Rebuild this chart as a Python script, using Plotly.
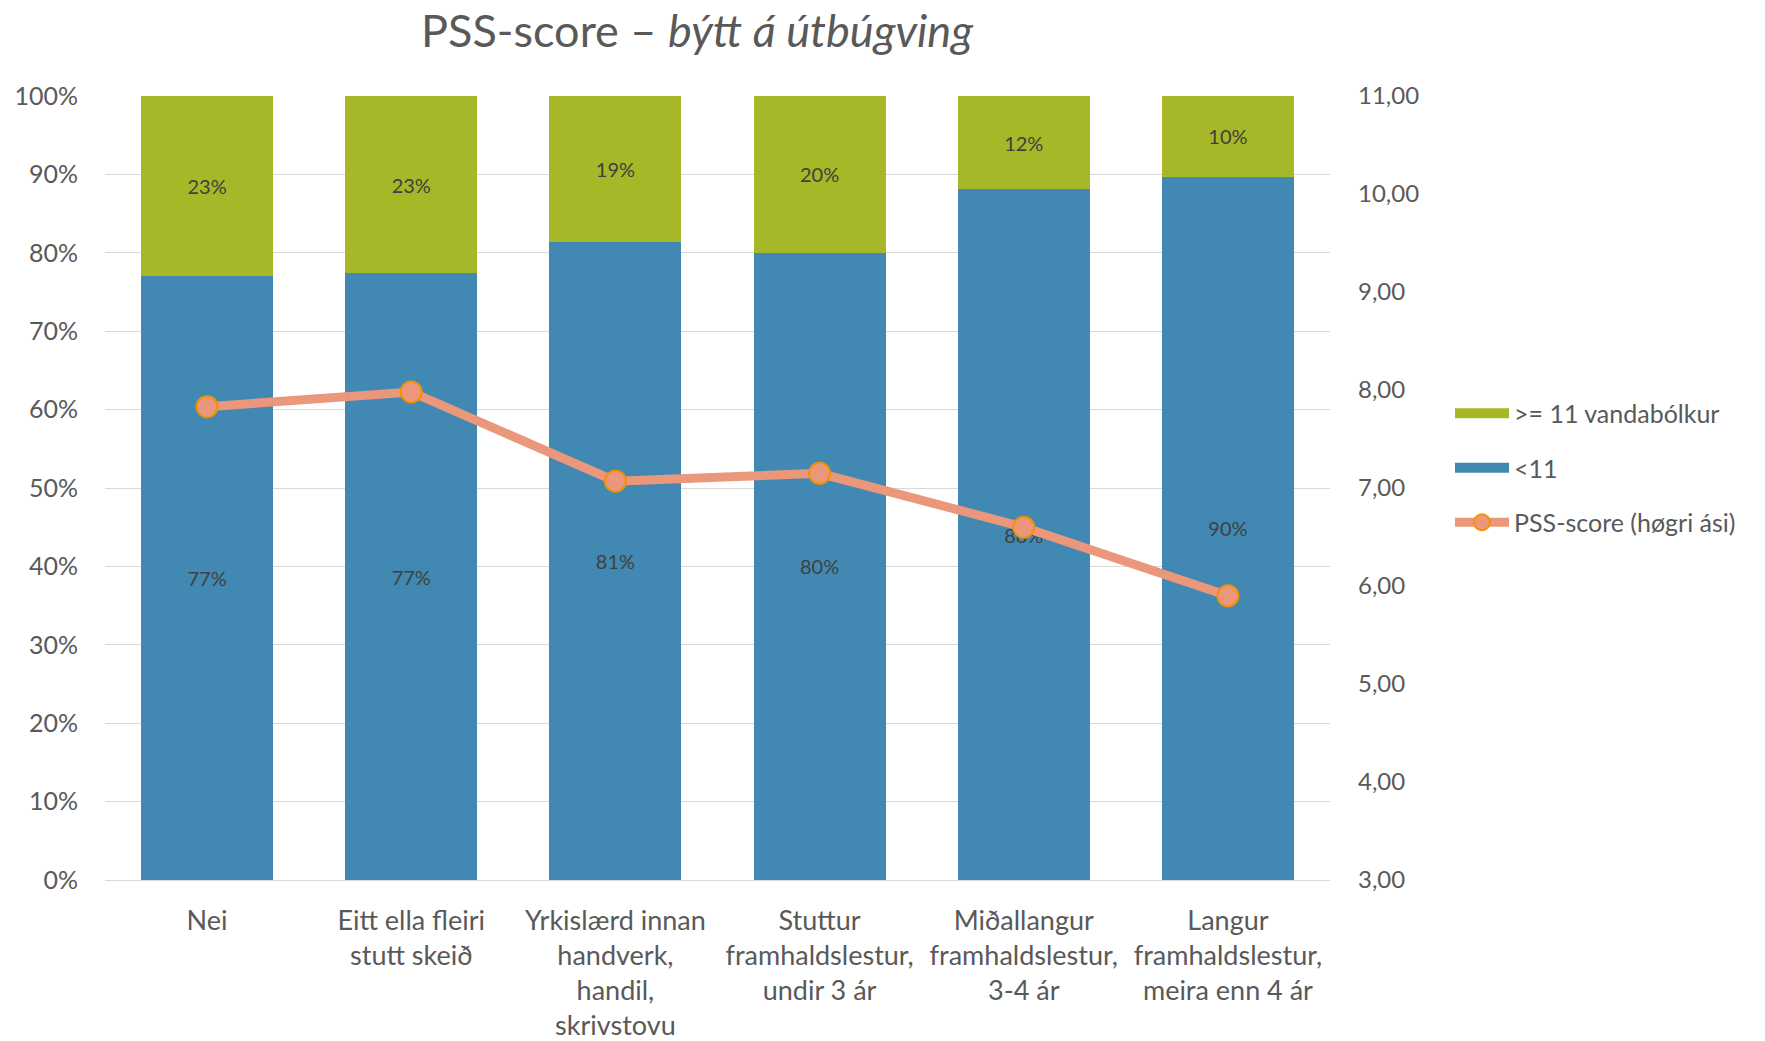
import plotly.graph_objects as go

categories = [
    "Nei",
    "Eitt ella fleiri<br>stutt skeið",
    "Yrkislærd innan<br>handverk,<br>handil,<br>skrivstovu",
    "Stuttur<br>framhaldslestur,<br>undir 3 ár",
    "Miðallangur<br>framhaldslestur,<br>3-4 ár",
    "Langur<br>framhaldslestur,<br>meira enn 4 ár",
]
below_11 = [77.0, 77.4, 81.4, 80.0, 88.1, 89.7]
above_11 = [23.0, 22.6, 18.6, 20.0, 11.9, 10.3]
pss_score = [7.83, 7.98, 7.07, 7.15, 6.60, 5.90]

BLUE = "#4189B3"
GREEN = "#A6B727"
SALMON = "#EB977B"
ORANGE = "#F39200"
TXT = "#595959"
FONT = "Lato"

# page is drawn with an 8px body margin; layout values below compensate
L, R, T, B = 97, 443, 88, 169

fig = go.Figure()
fig.add_trace(go.Bar(
    x=categories, y=below_11, name="<11", marker=dict(color=BLUE, line=dict(width=0)),
    texttemplate="%{y:.0f}%", textposition="inside", insidetextanchor="middle",
    textfont=dict(family=FONT, size=20, color="#404040"),
    showlegend=False, width=0.646,
))
fig.add_trace(go.Bar(
    x=categories, y=above_11, name=">= 11 vandabólkur", marker=dict(color=GREEN, line=dict(width=0)),
    texttemplate="%{y:.0f}%", textposition="inside", insidetextanchor="middle",
    textfont=dict(family=FONT, size=20, color="#404040"),
    showlegend=False, width=0.646,
))
fig.add_trace(go.Scatter(
    x=categories, y=pss_score, name="PSS-score (høgri ási)", yaxis="y2",
    mode="lines+markers",
    line=dict(color=SALMON, width=9),
    marker=dict(size=21, color=SALMON, line=dict(color=ORANGE, width=2)),
    legendrank=3, legendgroup="c",
))
# legend swatches for the stacked bars (wide rectangles as in the original)
fig.add_trace(go.Scatter(
    x=[None], y=[None], name=">= 11 vandabólkur", mode="lines",
    line=dict(color=GREEN, width=16), legendrank=1, legendgroup="a",
))
fig.add_trace(go.Scatter(
    x=[None], y=[None], name="<11", mode="lines",
    line=dict(color=BLUE, width=16), legendrank=2, legendgroup="b",
))

fig.update_layout(
    width=1765, height=1041,
    barmode="stack",
    bargap=0.354,
    separators=", ",
    plot_bgcolor="white", paper_bgcolor="white",
    margin=dict(l=L, r=R, t=T, b=B, autoexpand=False),
    title=dict(
        text="PSS-score – <i>býtt á útbúgving</i>",
        x=689 / 1765, xanchor="center", xref="container",
        y=1 - 23 / 1041, yanchor="middle", yref="container",
        font=dict(family=FONT, size=45, color=TXT),
    ),
    xaxis=dict(
        tickfont=dict(family=FONT, size=27, color=TXT),
        showline=False, ticks="", showgrid=False, automargin=False,
        ticklabelstandoff=22,
    ),
    yaxis=dict(
        range=[0, 100], dtick=10, ticksuffix="%",
        showgrid=True, gridcolor="#D9D9D9", gridwidth=1.3,
        zeroline=True, zerolinecolor="#D9D9D9", zerolinewidth=1.3,
        tickfont=dict(family=FONT, size=25, color=TXT),
        ticklabelstandoff=26, automargin=False,
    ),
    yaxis2=dict(
        range=[3, 11], dtick=1, tickformat=".2f", overlaying="y", side="right",
        showgrid=False, zeroline=False,
        tickfont=dict(family=FONT, size=24, color=TXT),
        ticklabelstandoff=27, automargin=False,
    ),
    legend=dict(
        x=(1442 - L) / (1765 - L - R), xanchor="left",
        y=(1041 - B - 460) / (1041 - T - B), yanchor="middle",
        font=dict(family=FONT, size=25, color=TXT),
        tracegroupgap=19, itemwidth=54,
    ),
    showlegend=True,
)

fig.write_html("out.html")
